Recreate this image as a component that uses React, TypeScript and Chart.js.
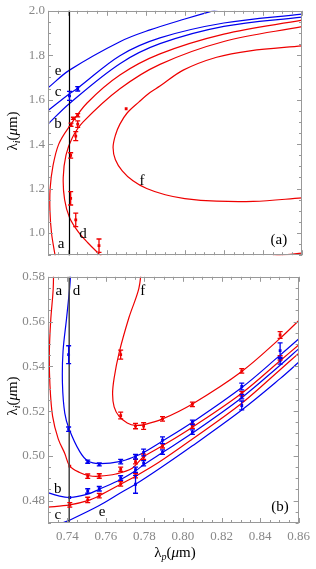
import React, { useEffect, useRef } from "react";
import { Chart, registerables } from "chart.js";
Chart.register(...registerables);

type XY = [number, number];

const RED = "rgb(238,0,0)";
const BLUE = "rgb(0,0,238)";

// ---------- shared ----------
const xTicks = [0.74, 0.76, 0.78, 0.8, 0.82, 0.84, 0.86];
const pumpLine = 0.741;

// ---------- panel (a) ----------
const topYTicks = [1.0, 1.2, 1.4, 1.6, 1.8, 2.0];
const topCurveE: XY[] = [[0.73, 1.653], [0.741, 1.733], [0.7668, 1.861], [0.7822, 1.914], [0.8, 1.963], [0.8144, 2.0], [0.82, 2.012]];
const topCurveC: XY[] = [[0.73, 1.551], [0.741, 1.627], [0.7452, 1.652], [0.7668, 1.798], [0.7873, 1.878], [0.82, 1.945], [0.86, 1.985]];
const topCurveB: XY[] = [[0.73, 1.49], [0.741, 1.583], [0.7668, 1.762], [0.7873, 1.852], [0.82, 1.93], [0.86, 1.972]];
const topCurveA: XY[] = [[0.734, 0.88], [0.7336, 0.9], [0.7318, 1.0], [0.731, 1.1], [0.7311, 1.2], [0.7325, 1.3], [0.7355, 1.4], [0.741, 1.48], [0.75, 1.585], [0.7668, 1.711], [0.7873, 1.806], [0.82, 1.895], [0.86, 1.958]];
const topCurveD: XY[] = [[0.758, 0.89], [0.7556, 0.91], [0.7505, 0.955], [0.7455, 1.005], [0.741, 1.07], [0.7385, 1.15], [0.7378, 1.25], [0.7392, 1.35], [0.7425, 1.43], [0.748, 1.5], [0.7668, 1.649], [0.7873, 1.759], [0.82, 1.862], [0.86, 1.929]];
const topCurveF: XY[] = [[0.86, 1.158], [0.835, 1.142], [0.8163, 1.143], [0.8, 1.155], [0.79, 1.172], [0.7805, 1.2], [0.7735, 1.235], [0.768, 1.28], [0.7645, 1.33], [0.7633, 1.385], [0.7645, 1.44], [0.7668, 1.49], [0.7705, 1.54], [0.7766, 1.59], [0.7822, 1.632], [0.7873, 1.661], [0.7992, 1.733], [0.8163, 1.791], [0.8334, 1.82], [0.86, 1.842]];
const topCurveG: XY[] = [[0.845, 0.895], [0.8494, 0.9], [0.86, 0.909]];

const topRedX = [0.743, 0.7452, 0.7418, 0.7452, 0.7442, 0.7416, 0.7416, 0.7442, 0.7561, 0.77];
const topRedY = [1.516, 1.53, 1.487, 1.49, 1.436, 1.349, 1.156, 1.059, 0.943, 1.559];
const topRedErr = [0.005, 0.007, 0.007, 0.015, 0.02, 0.012, 0.03, 0.03, 0.03, 0];
const topBlueX = [0.741, 0.7452];
const topBlueY = [1.617, 1.649];
const topBlueErr = [0.02, 0.01];

// ---------- panel (b) ----------
const botYTicks = [0.48, 0.5, 0.52, 0.54, 0.56, 0.58];
const botCurveA: XY[] = [[0.7329, 0.585], [0.7327, 0.5747], [0.7314, 0.5604], [0.7307, 0.5461], [0.731, 0.5319], [0.7324, 0.5176], [0.7353, 0.5076], [0.7387, 0.5011], [0.7413, 0.4954], [0.7464, 0.4926], [0.7515, 0.4911], [0.7566, 0.4909], [0.7652, 0.4919], [0.7737, 0.4945], [0.7796, 0.4996], [0.7894, 0.5045], [0.8049, 0.5128], [0.8305, 0.528], [0.8504, 0.5425], [0.86, 0.5495]];
const botCurveD: XY[] = [[0.742, 0.585], [0.7413, 0.5757], [0.7396, 0.5612], [0.7378, 0.5467], [0.7375, 0.5322], [0.7387, 0.5191], [0.741, 0.5119], [0.7464, 0.502], [0.7506, 0.4978], [0.7566, 0.4965], [0.7677, 0.4975], [0.7754, 0.4998], [0.7796, 0.5015], [0.7894, 0.5066], [0.8049, 0.515], [0.8305, 0.5305], [0.8504, 0.545], [0.86, 0.5522]];
const botCurveB: XY[] = [[0.728, 0.4842], [0.73, 0.4836], [0.7351, 0.4822], [0.7413, 0.4814], [0.7506, 0.4829], [0.7566, 0.4851], [0.7677, 0.4894], [0.7754, 0.4933], [0.7796, 0.496], [0.7894, 0.5015], [0.8049, 0.5102], [0.8305, 0.526], [0.8504, 0.5405], [0.86, 0.5478]];
const botCurveC: XY[] = [[0.728, 0.477], [0.73, 0.4771], [0.7413, 0.4781], [0.7506, 0.48], [0.7566, 0.4822], [0.7677, 0.4873], [0.7754, 0.4909], [0.7873, 0.497], [0.8049, 0.5075], [0.8305, 0.5235], [0.8504, 0.5385], [0.86, 0.5458]];
const botCurveE: XY[] = [[0.735, 0.469], [0.7372, 0.4699], [0.7413, 0.4713], [0.7566, 0.4778], [0.7677, 0.4835], [0.7754, 0.4873], [0.7873, 0.494], [0.8049, 0.5045], [0.8305, 0.5205], [0.8504, 0.5345], [0.86, 0.5418]];
const botCurveF: XY[] = [[0.7786, 0.585], [0.7771, 0.5747], [0.772, 0.5618], [0.7669, 0.5461], [0.7643, 0.5347], [0.7635, 0.5276], [0.7643, 0.5219], [0.7669, 0.5176], [0.7711, 0.5147], [0.7754, 0.5136], [0.7805, 0.5141], [0.7894, 0.5165], [0.8049, 0.5232], [0.8305, 0.5377], [0.8504, 0.5525], [0.86, 0.5604]];

const botRedX = [0.7413, 0.7506, 0.7566, 0.7677, 0.7754, 0.7796, 0.7894, 0.8049, 0.8305, 0.8504, 0.7413, 0.7506, 0.7566, 0.7677, 0.7754, 0.7677, 0.7677, 0.7754, 0.7796, 0.7894, 0.8049, 0.8305, 0.8504];
const botRedY = [0.4954, 0.4909, 0.491, 0.494, 0.4974, 0.4996, 0.5045, 0.5133, 0.5278, 0.5438, 0.4781, 0.4803, 0.4822, 0.4875, 0.4912, 0.5452, 0.518, 0.5133, 0.5133, 0.5165, 0.523, 0.538, 0.554];
const botRedErr = [0, 0.001, 0.001, 0.001, 0.001, 0.0012, 0.001, 0.001, 0.001, 0.001, 0.001, 0.0012, 0.001, 0.001, 0.001, 0.002, 0.0015, 0.0012, 0.0015, 0.001, 0.001, 0.001, 0.0015];
const botBlueX = [0.7407, 0.7407, 0.7506, 0.7566, 0.7677, 0.7754, 0.7796, 0.7894, 0.8049, 0.8305, 0.8504, 0.7413, 0.7506, 0.7566, 0.7677, 0.7754, 0.7796, 0.7894, 0.8049, 0.8305, 0.8504, 0.7754, 0.8305];
const botBlueY = [0.5452, 0.5119, 0.4974, 0.4962, 0.4974, 0.4996, 0.5015, 0.507, 0.515, 0.531, 0.547, 0.4814, 0.4843, 0.4853, 0.4901, 0.4938, 0.4967, 0.5017, 0.5106, 0.5265, 0.5425, 0.4873, 0.5225];
const botBlueErr = [0.004, 0.001, 0.0007, 0.0007, 0.001, 0.001, 0.0015, 0.0015, 0.001, 0.0015, 0.0035, 0, 0.001, 0.001, 0.001, 0.0012, 0.0012, 0.001, 0.001, 0.001, 0.0015, 0.004, 0.002];

type Lbl = { t: string; x: number; y: number };
const topLabels: Lbl[] = [
  { t: "e", x: 0.7351, y: 1.727 }, { t: "c", x: 0.7351, y: 1.636 }, { t: "b", x: 0.7351, y: 1.488 },
  { t: "a", x: 0.7367, y: 0.949 }, { t: "d", x: 0.7479, y: 0.997 }, { t: "f", x: 0.7781, y: 1.232 },
  { t: "(a)", x: 0.8482, y: 0.97 },
];
const botLabels: Lbl[] = [
  { t: "a", x: 0.7356, y: 0.5735 }, { t: "d", x: 0.7448, y: 0.5735 }, { t: "f", x: 0.7791, y: 0.5735 },
  { t: "b", x: 0.7351, y: 0.4852 }, { t: "c", x: 0.7351, y: 0.4735 }, { t: "e", x: 0.7581, y: 0.4748 },
  { t: "(b)", x: 0.8503, y: 0.477 },
];

const SERIF = '"Liberation Serif", "DejaVu Serif", serif';

function lineDs(data: XY[], color: string, width = 1.2) {
  return {
    data: data.map(([x, y]) => ({ x, y })),
    showLine: true, borderColor: color, backgroundColor: color, borderWidth: width,
    pointRadius: 0, pointHoverRadius: 0, tension: 0.35, clip: 0, fill: false,
  };
}
function pointDs(xs: number[], ys: number[], errs: number[], color: string) {
  return {
    data: xs.map((x, i) => ({ x, y: ys[i] })),
    errs, showLine: false, borderColor: color, backgroundColor: color,
    pointStyle: "rect", pointRadius: 2, borderWidth: 0, clip: 0,
  };
}

function drawTitle(ctx: CanvasRenderingContext2D, cx: number, cy: number, rot: boolean, sub: string) {
  ctx.save();
  ctx.translate(cx, cy);
  if (rot) ctx.rotate(-Math.PI / 2);
  const parts = [
    { t: "λ", f: `15px ${SERIF}`, dy: 0 },
    { t: sub, f: `italic 10px ${SERIF}`, dy: 3 },
    { t: "(", f: `15px ${SERIF}`, dy: 0 },
    { t: "μ", f: `italic 15px ${SERIF}`, dy: 0 },
    { t: "m)", f: `15px ${SERIF}`, dy: 0 },
  ];
  ctx.textAlign = "left";
  ctx.textBaseline = "alphabetic";
  let total = 0;
  const ws = parts.map((p) => { ctx.font = p.f; const w = ctx.measureText(p.t).width; total += w; return w; });
  let x = -total / 2;
  ctx.fillStyle = "#000";
  parts.forEach((p, i) => { ctx.font = p.f; ctx.fillText(p.t, x, 5 + p.dy); x += ws[i]; });
  ctx.restore();
}

function makePlugin(cfg: { yMinorStep: number; ymin: number; ymax: number; labels: Lbl[]; titles: (ctx: CanvasRenderingContext2D) => void }) {
  return {
    id: "decor",
    afterDatasetsDraw(chart: any) {
      const ctx: CanvasRenderingContext2D = chart.ctx;
      const xs = chart.scales.x, ys = chart.scales.y;
      chart.data.datasets.forEach((ds: any) => {
        if (!ds.errs) return;
        ctx.save();
        ctx.strokeStyle = ds.borderColor;
        ctx.lineWidth = 1.3;
        ds.data.forEach((p: any, i: number) => {
          const e = ds.errs[i];
          if (!e) return;
          const x = xs.getPixelForValue(p.x);
          const y1 = ys.getPixelForValue(p.y - e);
          const y2 = ys.getPixelForValue(p.y + e);
          ctx.beginPath();
          ctx.moveTo(x, y1); ctx.lineTo(x, y2);
          ctx.moveTo(x - 2.5, y1); ctx.lineTo(x + 2.5, y1);
          ctx.moveTo(x - 2.5, y2); ctx.lineTo(x + 2.5, y2);
          ctx.stroke();
        });
        ctx.restore();
      });
    },
    afterDraw(chart: any) {
      const ctx: CanvasRenderingContext2D = chart.ctx;
      const a = chart.chartArea;
      const xs = chart.scales.x, ys = chart.scales.y;
      ctx.save();
      ctx.strokeStyle = "#999";
      ctx.lineWidth = 1;
      ctx.strokeRect(Math.round(a.left) + 0.5, Math.round(a.top) + 0.5, Math.round(a.right - a.left) - 1, Math.round(a.bottom - a.top) - 1);
      ctx.beginPath();
      for (let k = 0; k <= 26; k++) {
        const v = 0.73 + k * 0.005;
        const major = k % 4 === 2;
        const len = major ? 5 : 3;
        const x = Math.round(xs.getPixelForValue(v)) + 0.5;
        ctx.moveTo(x, a.bottom); ctx.lineTo(x, a.bottom - len);
        ctx.moveTo(x, a.top); ctx.lineTo(x, a.top + len);
      }
      const n = Math.round((cfg.ymax - cfg.ymin) / cfg.yMinorStep);
      for (let k = 0; k <= n; k++) {
        const v = cfg.ymin + k * cfg.yMinorStep;
        const major = Math.round(v / cfg.yMinorStep) % 4 === 0;
        const len = major ? 5 : 3;
        const y = Math.round(ys.getPixelForValue(v)) + 0.5;
        ctx.moveTo(a.left, y); ctx.lineTo(a.left + len, y);
        ctx.moveTo(a.right, y); ctx.lineTo(a.right - len, y);
      }
      ctx.stroke();
      ctx.fillStyle = "#000";
      ctx.textAlign = "center";
      ctx.textBaseline = "middle";
      cfg.labels.forEach((l) => {
        ctx.font = `15px ${SERIF}`;
        ctx.fillText(l.t, xs.getPixelForValue(l.x), ys.getPixelForValue(l.y));
      });
      cfg.titles(ctx);
      ctx.restore();
    },
  };
}

function makeConfig(opts: {
  datasets: any[]; ymin: number; ymax: number; yTicks: number[]; yDigits: number; showX: boolean;
  padding: any; xHeight: number; plugin: any;
}) {
  return {
    type: "scatter",
    data: { datasets: opts.datasets },
    options: {
      animation: false, responsive: false, devicePixelRatio: 1,
      events: [],
      layout: { padding: opts.padding },
      plugins: { legend: { display: false }, tooltip: { enabled: false } },
      scales: {
        x: {
          type: "linear", min: 0.73, max: 0.86, display: opts.showX,
          grid: { display: false, drawTicks: false }, border: { display: false },
          afterBuildTicks: (s: any) => { s.ticks = xTicks.map((v) => ({ value: v })); },
          afterFit: (s: any) => { s.height = opts.xHeight; },
          ticks: { padding: 6, autoSkip: false, maxRotation: 0, color: "#888", font: { family: SERIF, size: 13 }, callback: (v: any) => Number(v).toFixed(2) },
        },
        y: {
          type: "linear", min: opts.ymin, max: opts.ymax,
          grid: { display: false, drawTicks: false }, border: { display: false },
          afterBuildTicks: (s: any) => { s.ticks = opts.yTicks.map((v) => ({ value: v })); },
          afterFit: (s: any) => { s.width = 48; },
          ticks: { padding: 3, autoSkip: false, color: "#888", font: { family: SERIF, size: 13 }, callback: (v: any) => Number(v).toFixed(opts.yDigits) },
        },
      },
    },
    plugins: [opts.plugin],
  };
}

function useChart(ref: React.RefObject<HTMLCanvasElement>, build: () => any) {
  useEffect(() => {
    if (!ref.current) return;
    const c = new Chart(ref.current, build());
    return () => c.destroy();
  }, []);
}

export default function App() {
  const topRef = useRef<HTMLCanvasElement>(null);
  const botRef = useRef<HTMLCanvasElement>(null);

  useChart(topRef, () =>
    makeConfig({
      datasets: [
        lineDs([[pumpLine, 0.85], [pumpLine, 2.05]], "#000", 1.2),
        lineDs(topCurveA, RED), lineDs(topCurveD, RED), lineDs(topCurveF, RED), lineDs(topCurveG, RED),
        lineDs(topCurveE, BLUE), lineDs(topCurveC, BLUE), lineDs(topCurveB, BLUE),
        pointDs(topRedX, topRedY, topRedErr, RED),
        pointDs(topBlueX, topBlueY, topBlueErr, BLUE),
      ],
      ymin: 0.9, ymax: 2.0, yTicks: topYTicks, yDigits: 1, showX: false,
      padding: { left: 0, right: 14, top: 5, bottom: 8 }, xHeight: 0,
      plugin: makePlugin({
        yMinorStep: 0.05, ymin: 0.9, ymax: 2.0, labels: topLabels,
        titles: (ctx) => drawTitle(ctx, 12, 131, true, "i"),
      }),
    })
  );

  useChart(botRef, () =>
    makeConfig({
      datasets: [
        lineDs([[pumpLine, 0.46], [pumpLine, 0.59]], "#444", 1.5),
        lineDs(botCurveA, RED), lineDs(botCurveC, RED), lineDs(botCurveF, RED),
        lineDs(botCurveD, BLUE), lineDs(botCurveB, BLUE), lineDs(botCurveE, BLUE),
        pointDs(botRedX, botRedY, botRedErr, RED),
        pointDs(botBlueX, botBlueY, botBlueErr, BLUE),
      ],
      ymin: 0.47, ymax: 0.58, yTicks: botYTicks, yDigits: 2, showX: true,
      padding: { left: 0, right: 14, top: 4, bottom: 0 }, xHeight: 46,
      plugin: makePlugin({
        yMinorStep: 0.005, ymin: 0.47, ymax: 0.58, labels: botLabels,
        titles: (ctx) => { drawTitle(ctx, 12, 130, true, "i"); drawTitle(ctx, 175, 286, false, "p"); },
      }),
    })
  );

  return (
    <div style={{ position: "absolute", left: 0, top: 0, width: 316, height: 569, background: "#fff" }}>
      <canvas ref={topRef} width={316} height={266} style={{ position: "absolute", left: 0, top: 0, width: 316, height: 266 }} />
      <canvas ref={botRef} width={316} height={303} style={{ position: "absolute", left: 0, top: 266, width: 316, height: 303 }} />
    </div>
  );
}
